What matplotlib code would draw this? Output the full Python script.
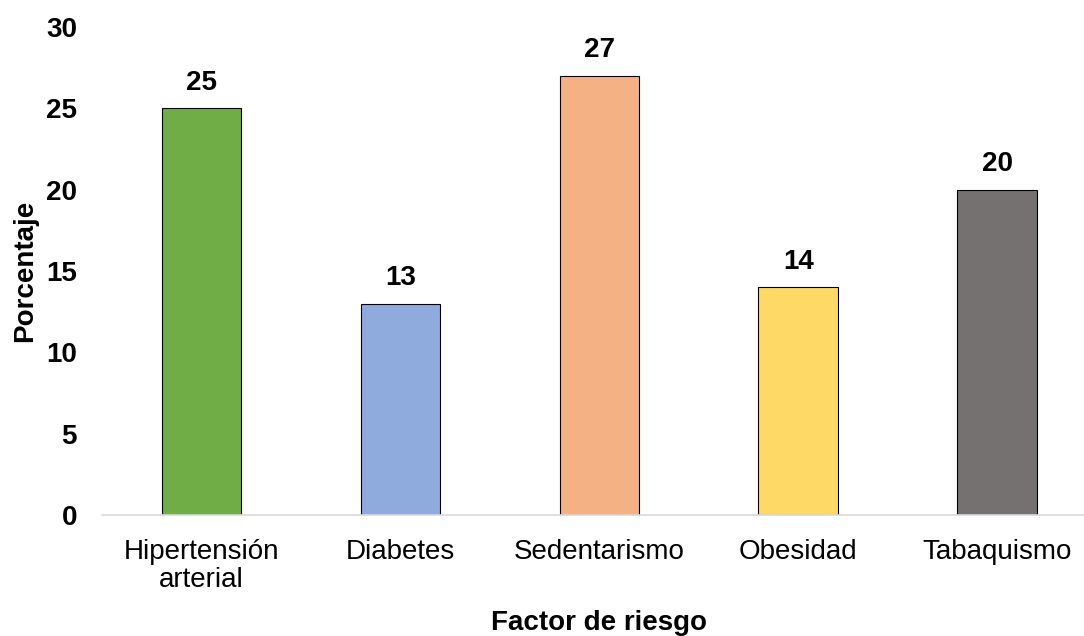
import matplotlib
matplotlib.use("Agg")
import matplotlib.pyplot as plt

# risk factors and the share of patients for each one
factores = ["Hipertensión\narterial", "Diabetes", "Sedentarismo", "Obesidad", "Tabaquismo"]
porcentaje = [25, 13, 27, 14, 20]
colores = ["#70AD47", "#8FAADC", "#F4B183", "#FFD966", "#767171"]
ticks_y = [0, 5, 10, 15, 20, 25, 30]

plt.rcParams['font.family'] = ['Liberation Sans', 'DejaVu Sans']
fs = 20

fig = plt.figure(figsize=(10.84, 6.36), dpi=100)
ax = fig.add_axes([0.0941, 0.1903, 0.9175, 0.7673])

x = list(range(len(factores)))
bars = ax.bar(x, porcentaje, width=0.4, color=colores, edgecolor="black", linewidth=0.8, zorder=2)

# value on top of each bar
for b, v in zip(bars, porcentaje):
    ax.annotate(str(v), (b.get_x() + b.get_width() / 2, v), xytext=(0, 9),
                textcoords="offset points", ha="center", va="bottom",
                fontsize=fs, fontweight="bold")

ax.set_xlim(-0.5, len(factores) - 0.5)
ax.set_ylim(0, 30)
ax.set_yticks(ticks_y)
ax.set_yticklabels([str(t) for t in ticks_y], fontsize=fs, fontweight="bold")
ax.set_xticks(x)
ax.set_xticklabels(factores, fontsize=fs, linespacing=1.12)
ax.tick_params(axis="y", length=0, pad=18)
ax.tick_params(axis="x", length=0, pad=17)

for s in ["top", "right", "left"]:
    ax.spines[s].set_visible(False)
ax.spines["bottom"].set_color("#d9d9d9")
ax.spines["bottom"].set_linewidth(1.2)

ax.set_xlabel("Factor de riesgo", fontsize=fs, fontweight="bold", labelpad=12)
ax.set_ylabel("Porcentaje", fontsize=fs, fontweight="bold", labelpad=6)

fig.savefig("out.png", dpi=100)
